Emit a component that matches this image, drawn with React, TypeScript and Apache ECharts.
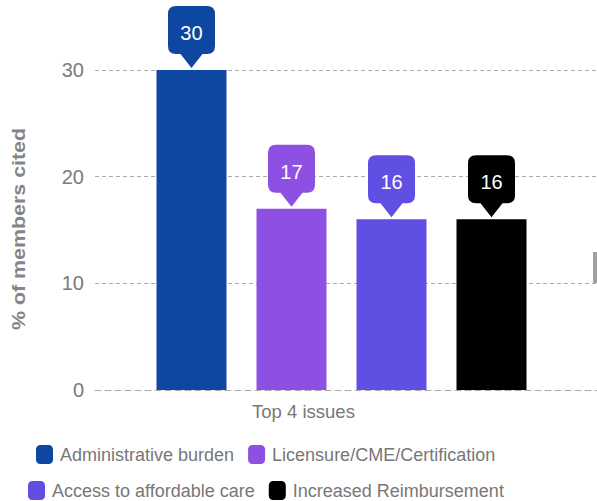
import React, { useEffect, useRef } from "react";
import * as echarts from "echarts";

const categories = ["Top 4 issues"];
const seriesNames = [
  "Administrative burden",
  "Licensure/CME/Certification",
  "Access to affordable care",
  "Increased Reimbursement",
];
const seriesValues = [30, 17, 16, 16];
const seriesColors = ["#0d47a1", "#8e4fe3", "#5f4fe3", "#000000"];
const yMin = 0;
const yMax = 30;
const yInterval = 10;
const yAxisTitle = "% of members cited";

const SANS = "'Liberation Sans', Arial, sans-serif";

const calloutPath =
  "path://M8,0 L39,0 Q47,0 47,8 L47,40 Q47,48 39,48 L34.5,48 L23.5,62 L12.5,48 L8,48 Q0,48 0,40 L0,8 Q0,0 8,0 Z";

export default function App() {
  const ref = useRef<HTMLDivElement>(null);
  useEffect(() => {
    if (!ref.current) return;
    const chart = echarts.init(ref.current, null, { renderer: "svg" });
    const series = seriesNames.map((name, i) => ({
      type: "bar",
      name,
      xAxisIndex: 0,
      yAxisIndex: 0,
      data: [seriesValues[i]],
      barWidth: 70,
      barGap: "42.86%",
      itemStyle: { color: seriesColors[i] },
      markPoint: {
        symbol: calloutPath,
        symbolSize: [47, 62],
        symbolOffset: [0, -33],
        itemStyle: { color: seriesColors[i] },
        label: {
          show: true,
          position: "inside",
          offset: [0, -4],
          color: "#ffffff",
          fontSize: 20,
          fontFamily: SANS,
          formatter: "{c}",
        },
        data: [{ coord: [categories[0], seriesValues[i]], value: seriesValues[i] }],
      },
    }));
    const legendBase = {
      padding: 0,
      itemWidth: 17,
      itemHeight: 19,
      itemGap: 14,
      icon: "roundRect",
      textStyle: { color: "#777777", fontSize: 18, fontFamily: SANS, padding: [0, 0, 0, 2] },
    };
    chart.setOption({
      animation: false,
      backgroundColor: "#ffffff",
      grid: [
        { left: 95, right: 9, top: 70, bottom: 111 },
        { left: 95, right: 0, top: 70, bottom: 111 },
      ],
      xAxis: [
        {
          type: "category",
          gridIndex: 0,
          data: categories,
          axisLine: { show: false },
          axisTick: { show: false },
          axisLabel: {
            margin: 12,
            color: "#777777",
            fontSize: 18.5,
            fontFamily: SANS,
            padding: [0, 76, 0, 0],
          },
        },
        {
          type: "category",
          gridIndex: 1,
          data: [""],
          axisLine: {
            show: true,
            lineStyle: { color: "#aaaaaa", width: 1, type: [6, 4] },
          },
          axisTick: { show: false },
          axisLabel: { show: false },
        },
      ],
      yAxis: [
        { type: "value", gridIndex: 0, min: yMin, max: yMax, interval: yInterval, show: false },
        {
          type: "value",
          gridIndex: 1,
          min: yMin,
          max: yMax,
          interval: yInterval,
          axisLine: { show: false },
          axisTick: { show: false },
          axisLabel: {
            margin: 11,
            color: "#7a7a7a",
            fontSize: 20,
            fontFamily: SANS,
          },
          splitLine: {
            show: true,
            lineStyle: {
              color: ["transparent", "#aaaaaa", "#aaaaaa", "#aaaaaa"],
              width: 1,
              type: [4, 3],
            },
          },
        },
      ],
      legend: [
        { ...legendBase, left: 36, top: 445, data: seriesNames.slice(0, 2) },
        { ...legendBase, left: 28, top: 481, data: seriesNames.slice(2, 4) },
      ],
      graphic: [
        {
          type: "text",
          x: 19,
          y: 229,
          rotation: Math.PI / 2,
          scaleX: 1.19,
          style: {
            text: yAxisTitle,
            font: "bold 18px " + SANS,
            fill: "#858585",
            align: "center",
            verticalAlign: "middle",
          },
        },
        {
          type: "rect",
          shape: { x: 593, y: 252, width: 4, height: 31 },
          style: { fill: "#a0a0a0" },
        },
      ],
      series,
    });
    return () => chart.dispose();
  }, []);
  return (
    <div
      ref={ref}
      style={{ position: "absolute", left: 0, top: 0, width: 597, height: 501 }}
    />
  );
}
